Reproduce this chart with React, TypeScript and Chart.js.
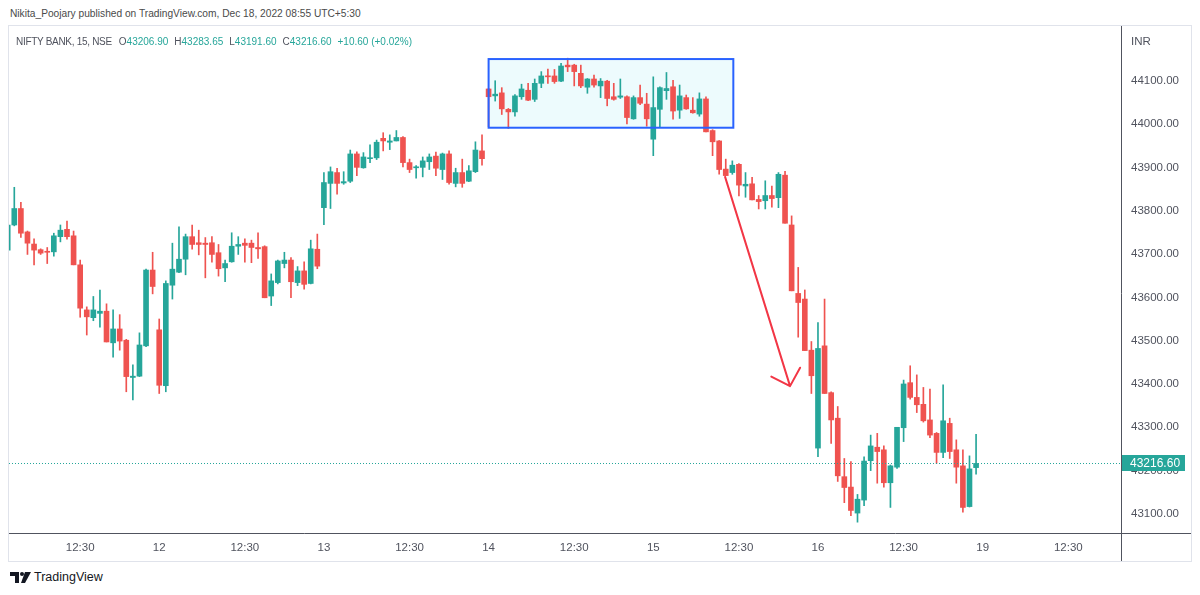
import React, { useEffect, useRef } from "react";
import { Chart, registerables } from "chart.js";

Chart.register(...registerables);

// ---- data (NIFTY BANK, 15 min candles, Dec 9 – Dec 16, 2022) ----
const opens = [
  43709, 43767, 43805, 43751, 43723, 43710, 43706, 43705, 43740, 43757,
  43742, 43675, 43571, 43553, 43563, 43568, 43495, 43527, 43501, 43415,
  43418, 43488, 43663, 43525, 43396, 43628, 43658, 43688, 43740, 43726,
  43725, 43726, 43703, 43668, 43682, 43718, 43725, 43725, 43715, 43717,
  43603, 43634, 43678, 43686, 43634, 43661, 43632, 43711, 43807, 43863,
  43888, 43864, 43868, 43931, 43899, 43920, 43922, 43967, 43958, 43961,
  43969, 43911, 43899, 43900, 43913, 43926, 43895, 43931, 43863, 43888,
  43868, 43890, 43938, 44081, 44065, 44072, 44034, 44028, 44063, 44078,
  44057, 44094, 44111, 44111, 44099, 44136, 44136, 44117, 44085, 44104,
  44088, 44099, 44063, 44062, 44063, 44012, 44061, 44046, 43965, 44034,
  44077, 44086, 44032, 44061, 44032, 44023, 44058, 43985, 43961, 43896,
  43888, 43907, 43857, 43862, 43826, 43823, 43835, 43830, 43882, 43767,
  43609, 43596, 43478, 43252, 43488, 43380, 43321, 43186, 43162, 43102,
  43132, 43223, 43254, 43248, 43172, 43208, 43299, 43403, 43369, 43353,
  43317, 43286, 43242, 43309, 43248, 43211, 43117, 43206.9,
];
const highs = [
  43770, 43854, 43819, 43753, 43735, 43712, 43715, 43748, 43767, 43776,
  43753, 43686, 43578, 43602, 43617, 43585, 43571, 43560, 43503, 43444,
  43518, 43665, 43704, 43550, 43638, 43725, 43763, 43746, 43767, 43755,
  43738, 43740, 43722, 43686, 43749, 43740, 43735, 43732, 43749, 43719,
  43654, 43686, 43704, 43692, 43671, 43682, 43732, 43746, 43888, 43901,
  43898, 43890, 43940, 43936, 43934, 43952, 43963, 43980, 43975, 43985,
  43971, 43919, 43904, 43924, 43931, 43935, 43933, 43938, 43898, 43919,
  43904, 43959, 43975, 44082, 44100, 44084, 44036, 44068, 44092, 44094,
  44104, 44121, 44127, 44126, 44140, 44152, 44138, 44136, 44105, 44113,
  44105, 44101, 44094, 44104, 44065, 44065, 44090, 44071, 44109, 44086,
  44119, 44101, 44090, 44067, 44061, 44072, 44063, 43987, 43962, 43919,
  43915, 43909, 43888, 43877, 43835, 43869, 43857, 43888, 43891, 43788,
  43669, 43617, 43498, 43542, 43596, 43382, 43348, 43228, 43221, 43145,
  43232, 43282, 43286, 43257, 43213, 43300, 43409, 43442, 43421, 43392,
  43388, 43288, 43398, 43321, 43271, 43248, 43234, 43283.65,
];
const lows = [
  43705, 43765, 43738, 43699, 43675, 43699, 43678, 43695, 43728, 43734,
  43675, 43554, 43513, 43546, 43531, 43497, 43462, 43478, 43382, 43363,
  43417, 43486, 43608, 43378, 43382, 43596, 43657, 43652, 43711, 43698,
  43645, 43681, 43649, 43636, 43681, 43699, 43681, 43680, 43690, 43599,
  43581, 43631, 43668, 43599, 43627, 43619, 43631, 43666, 43768, 43805,
  43838, 43861, 43865, 43881, 43898, 43911, 43918, 43938, 43941, 43961,
  43901, 43888, 43875, 43878, 43895, 43881, 43872, 43861, 43855, 43854,
  43867, 43888, 43905, 43994, 44053, 44022, 43990, 44018, 44057, 44054,
  44052, 44084, 44094, 44094, 44098, 44121, 44088, 44084, 44071, 44085,
  44061, 44042, 44055, 44059, 44000, 44011, 44045, 43995, 43927, 43994,
  44057, 44011, 44013, 44034, 44025, 44018, 43982, 43927, 43884, 43881,
  43884, 43834, 43831, 43825, 43804, 43804, 43808, 43807, 43771, 43615,
  43508, 43477, 43378, 43232, 43378, 43263, 43175, 43126, 43096, 43081,
  43119, 43200, 43171, 43162, 43115, 43205, 43267, 43365, 43334, 43312,
  43276, 43217, 43230, 43228, 43171, 43104, 43116, 43191.6,
];
const closes = [
  43767, 43805, 43748, 43725, 43709, 43702, 43704, 43742, 43755, 43740,
  43675, 43575, 43555, 43571, 43568, 43497, 43527, 43499, 43417, 43418,
  43490, 43663, 43625, 43397, 43632, 43665, 43688, 43740, 43722, 43722,
  43722, 43699, 43666, 43678, 43718, 43722, 43720, 43715, 43712, 43599,
  43638, 43684, 43686, 43636, 43661, 43630, 43712, 43672, 43865, 43890,
  43863, 43867, 43931, 43900, 43924, 43922, 43958, 43961, 43961, 43969,
  43911, 43895, 43901, 43915, 43924, 43898, 43931, 43865, 43888, 43863,
  43892, 43940, 43920, 44063, 44069, 44035, 44028, 44065, 44081, 44055,
  44094, 44111, 44109, 44098, 44134, 44132, 44121, 44088, 44104, 44090,
  44099, 44059, 44057, 44065, 44015, 44061, 44048, 44012, 44038, 44084,
  44082, 44030, 44065, 44035, 44026, 44058, 43982, 43959, 43895, 43881,
  43905, 43859, 43861, 43825, 43821, 43835, 43828, 43884, 43771, 43615,
  43588, 43477, 43419, 43482, 43378, 43317, 43188, 43161, 43108, 43134,
  43222, 43257, 43244, 43172, 43211, 43300, 43400, 43369, 43352, 43315,
  43282, 43242, 43315, 43244, 43208, 43115, 43204, 43216.6,
];

// time axis: 25 fifteen-minute slots per session, first candle is the 09:45 slot of Dec 9
const dayLabels = ["9", "12", "13", "14", "15", "16", "19"];
const middayLabel = "12:30";
const slotsPerDay = 25;
const firstSlot = 2;
const middaySlot = 13;
const priceTicks = [43100, 43200, 43300, 43400, 43500, 43600, 43700, 43800, 43900, 44000, 44100];

// drawings (in candle-index / price coordinates)
const rangeBox = { fromIndex: 73, toIndex: 110.15, top: 44150, bottom: 43991.5 };
const arrowLine = { fromIndex: 108.9, fromPrice: 43878, toIndex: 118.76, toPrice: 43395 };

const UP = "#26a69a";
const DOWN = "#ef5350";
const AXIS_TEXT = "#50535e";
const FONT = "'Liberation Sans', Arial, sans-serif";

const tickDefs: { value: number; label: string }[] = [];
dayLabels.forEach((d, di) => {
  const start = di * slotsPerDay - firstSlot;
  if (di > 0) tickDefs.push({ value: start, label: d });
  tickDefs.push({ value: start + middaySlot, label: middayLabel });
});

const lastIdx = closes.length - 1;
const lastClose = closes[lastIdx];

const overlayPlugin = {
  id: "tvOverlay",
  beforeDatasetsDraw(chart: any) {
    const { ctx, scales } = chart;
    const x = scales.x;
    const y = scales.y;
    const x1 = x.getPixelForValue(rangeBox.fromIndex);
    const x2 = x.getPixelForValue(rangeBox.toIndex);
    const y1 = y.getPixelForValue(rangeBox.top);
    const y2 = y.getPixelForValue(rangeBox.bottom);
    ctx.save();
    ctx.fillStyle = "rgba(0, 200, 220, 0.07)";
    ctx.fillRect(x1, y1, x2 - x1, y2 - y1);
    ctx.restore();
  },
  afterDatasetsDraw(chart: any) {
    const { ctx, scales, chartArea, width, height } = chart;
    const x = scales.x;
    const y = scales.y;
    ctx.save();
    // range box border
    const x1 = x.getPixelForValue(rangeBox.fromIndex);
    const x2 = x.getPixelForValue(rangeBox.toIndex);
    const y1 = y.getPixelForValue(rangeBox.top);
    const y2 = y.getPixelForValue(rangeBox.bottom);
    ctx.strokeStyle = "#2962ff";
    ctx.lineWidth = 2;
    ctx.strokeRect(x1, y1, x2 - x1, y2 - y1);

    // last price dotted line
    const py = Math.round(y.getPixelForValue(lastClose)) + 0.5;
    ctx.strokeStyle = UP;
    ctx.lineWidth = 1;
    ctx.setLineDash([1, 2]);
    ctx.beginPath();
    ctx.moveTo(chartArea.left, py);
    ctx.lineTo(chartArea.right, py);
    ctx.stroke();
    ctx.setLineDash([]);

    // arrow
    const ax1 = x.getPixelForValue(arrowLine.fromIndex);
    const ay1 = y.getPixelForValue(arrowLine.fromPrice);
    const ax2 = x.getPixelForValue(arrowLine.toIndex);
    const ay2 = y.getPixelForValue(arrowLine.toPrice);
    const ang = Math.atan2(ay2 - ay1, ax2 - ax1);
    const wing = 21;
    const spread = 0.8;
    ctx.strokeStyle = "#f23645";
    ctx.lineWidth = 2;
    ctx.lineCap = "round";
    ctx.lineJoin = "round";
    ctx.beginPath();
    ctx.moveTo(ax1, ay1);
    ctx.lineTo(ax2, ay2);
    ctx.moveTo(ax2 + wing * Math.cos(ang + Math.PI - spread), ay2 + wing * Math.sin(ang + Math.PI - spread));
    ctx.lineTo(ax2, ay2);
    ctx.lineTo(ax2 + wing * Math.cos(ang + Math.PI + spread), ay2 + wing * Math.sin(ang + Math.PI + spread));
    ctx.stroke();

    // axis lines
    ctx.strokeStyle = AXIS_TEXT;
    ctx.lineWidth = 1;
    ctx.beginPath();
    ctx.moveTo(0, Math.round(chartArea.bottom) + 0.5);
    ctx.lineTo(width, Math.round(chartArea.bottom) + 0.5);
    ctx.moveTo(Math.round(chartArea.right) + 0.5, 0);
    ctx.lineTo(Math.round(chartArea.right) + 0.5, height);
    ctx.stroke();

    // currency
    ctx.fillStyle = AXIS_TEXT;
    ctx.font = `11.5px ${FONT}`;
    ctx.textAlign = "left";
    ctx.textBaseline = "middle";
    ctx.fillText("INR", chartArea.right + 10, 16);

    // last price label
    const lx = chartArea.right + 1;
    ctx.fillStyle = UP;
    ctx.fillRect(lx, py - 8.5, 63, 16);
    ctx.fillStyle = "#ffffff";
    ctx.font = `12px ${FONT}`;
    ctx.textAlign = "left";
    ctx.fillText(lastClose.toFixed(2), chartArea.right + 9, py);
    ctx.restore();
  },
};

export default function App() {
  const canvasRef = useRef<HTMLCanvasElement | null>(null);

  useEffect(() => {
    document.body.style.margin = "0";
    const canvas = canvasRef.current;
    if (!canvas) return;
    const colors = opens.map((o, i) => (closes[i] >= o ? UP : DOWN));
    const chart = new Chart(canvas, {
      type: "bar",
      data: {
        datasets: [
          {
            label: "wick",
            data: opens.map((_, i) => ({ x: i, y: [lows[i], highs[i]] })) as any,
            backgroundColor: colors,
            barThickness: 1,
            grouped: false,
            minBarLength: 1,
          },
          {
            label: "body",
            data: opens.map((o, i) => ({ x: i, y: [Math.min(o, closes[i]), Math.max(o, closes[i])] })) as any,
            backgroundColor: colors,
            barThickness: 5,
            grouped: false,
            minBarLength: 1,
          },
        ],
      },
      options: {
        animation: false,
        responsive: false,
        events: [],
        layout: { autoPadding: false, padding: { top: 1, left: 0, right: 0, bottom: 0 } },
        plugins: { legend: { display: false }, tooltip: { enabled: false } },
        scales: {
          x: {
            type: "linear",
            min: 0.196,
            max: 169.0,
            offset: false,
            grid: { display: false, drawTicks: false },
            border: { display: false },
            afterBuildTicks: (axis: any) => {
              axis.ticks = tickDefs.map((t) => ({ value: t.value }));
            },
            afterFit: (axis: any) => {
              axis.height = 28;
              axis.paddingLeft = 0;
              axis.paddingRight = 0;
              axis.paddingTop = 0;
              axis.paddingBottom = 0;
            },
            ticks: {
              autoSkip: false,
              maxRotation: 0,
              padding: 8,
              color: AXIS_TEXT,
              font: { family: FONT, size: 11.5 },
              callback: (v: any) => {
                const t = tickDefs.find((d) => d.value === v);
                return t ? t.label : "";
              },
            },
          },
          y: {
            type: "linear",
            position: "right",
            min: 43056,
            max: 44224,
            grid: { display: false, drawTicks: false },
            border: { display: false },
            afterBuildTicks: (axis: any) => {
              axis.ticks = priceTicks.map((v) => ({ value: v }));
            },
            afterFit: (axis: any) => {
              axis.width = 70;
              axis.paddingLeft = 0;
              axis.paddingRight = 0;
              axis.paddingTop = 0;
              axis.paddingBottom = 0;
            },
            ticks: {
              padding: 10,
              color: AXIS_TEXT,
              font: { family: FONT, size: 11.5 },
              callback: (v: any) => Number(v).toFixed(2),
            },
          },
        },
      },
      plugins: [overlayPlugin],
    });
    return () => chart.destroy();
  }, []);

  const valueStyle = { color: UP };
  return (
    <div style={{ position: "relative", width: 1200, height: 595, background: "#ffffff", fontFamily: FONT, overflow: "hidden" }}>
      <div style={{ position: "absolute", left: 10, top: 8, fontSize: 10.2, color: "#4a4a4a", whiteSpace: "nowrap" }}>
        Nikita_Poojary published on TradingView.com, Dec 18, 2022 08:55 UTC+5:30
      </div>
      <div style={{ position: "absolute", left: 8, top: 25, width: 1182, height: 535, border: "1px solid #e0e3eb" }}>
        <canvas ref={canvasRef} width={1182} height={535} style={{ display: "block", width: 1182, height: 535 }} />
        <div style={{ position: "absolute", left: 7, top: 10, fontSize: 10, whiteSpace: "nowrap", color: "#50535e" }}>
          <span style={{ letterSpacing: -0.3 }}>NIFTY BANK, 15, NSE</span>
          <span style={{ marginLeft: 7 }}>O</span><span style={valueStyle}>43206.90</span>
          <span style={{ marginLeft: 6 }}>H</span><span style={valueStyle}>43283.65</span>
          <span style={{ marginLeft: 6 }}>L</span><span style={valueStyle}>43191.60</span>
          <span style={{ marginLeft: 6 }}>C</span><span style={valueStyle}>43216.60</span>
          <span style={{ marginLeft: 6, color: UP }}>+10.60 (+0.02%)</span>
        </div>
      </div>
      <div style={{ position: "absolute", left: 10, top: 570, display: "flex", alignItems: "center" }}>
        <svg width="21" height="13" viewBox="0 0 21 13">
          <rect x="0" y="1" width="9" height="4" fill="#131722" />
          <rect x="5" y="1" width="4" height="11" fill="#131722" />
          <circle cx="12" cy="3" r="2" fill="#131722" />
          <polygon points="15,1 21,1 15,12 11,12" fill="#131722" />
        </svg>
        <span style={{ marginLeft: 3, fontSize: 12.5, color: "#131722" }}>TradingView</span>
      </div>
    </div>
  );
}
